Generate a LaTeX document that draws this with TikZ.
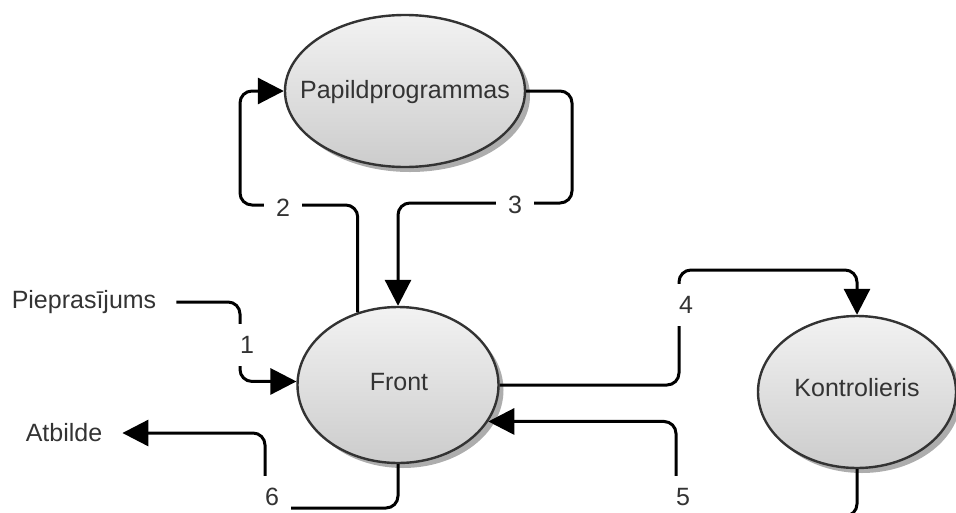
\documentclass[tikz,border=0pt]{standalone}
\usepackage{fontspec}
\setmainfont{Liberation Sans}
\usetikzlibrary{arrows.meta,shadows,shapes.geometric}
\begin{document}
\begin{tikzpicture}[x=1pt,y=-1pt,
  txt/.style={font=\fontsize{25}{30}\selectfont, text=black!80, inner sep=0pt},
  proc/.style={ellipse, draw=black!80, line width=2.4pt, top color=black!5, bottom color=black!20,
    drop shadow={shadow xshift=5pt, shadow yshift=-5pt, opacity=1, fill=black!32},
    inner sep=0pt},
  conn/.style={line width=3pt, rounded corners=12pt, -{Triangle[length=26pt,width=26pt]}},
  lbl/.style={fill=white, font=\fontsize{25}{30}\selectfont, text=black!80, inner xsep=12pt, inner ysep=12pt}]
\useasboundingbox (0,0) rectangle (956,512);
\clip (0,0) rectangle (956,512);
\node[proc, minimum width=240pt, minimum height=152pt] (papil) at (405,91) {};
\node[proc, minimum width=201pt, minimum height=156pt] (front) at (398,385) {};
\node[proc, minimum width=198pt, minimum height=152pt] (kontr) at (857,392) {};
\node[txt] (papilt) at (405,92) {Papildprogrammas};
\node[txt] (frontt) at (399,382) {Front};
\node[txt] (kontrt) at (857,388) {Kontrolieris};
\node[txt] (pie) at (84,302) {Pieprasījums};
\node[txt] (atb) at (64,433) {Atbilde};
% 1
\draw[conn, shorten <=20pt] (pie.east) -| (240,340) |- (front.178);
% 2
\draw[conn] (front.119) |- (240,205) |- (papil.west);
% 3
\draw[conn] (papil.east) -| (572,203) -| (front.north);
% 4
\draw[conn] (front.east) -| (679,270) -| (kontr.north);
% 5
\draw[conn] (kontr.south) |- (676,516) |- (front.-22);
% 6
\draw[conn, shorten >=20pt] (front.south) |- (265,508) |- (atb.east);
% labels
\node[lbl] (l1) at (247,345) {1};
\node[lbl] (l2) at (283,208) {2};
\node[lbl] (l3) at (515,205) {3};
\node[lbl] (l4) at (686,305) {4};
\node[lbl] (l5) at (683,497) {5};
\node[lbl] (l6) at (272,497) {6};
\end{tikzpicture}
\end{document}
